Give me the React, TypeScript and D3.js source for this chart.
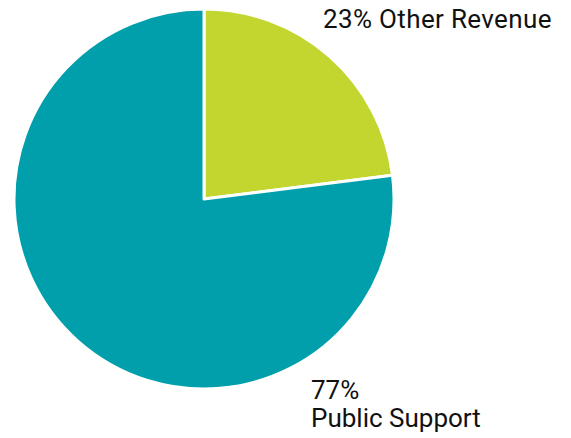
import * as d3 from 'd3';

const labels = ['Other Revenue', 'Public Support'];
const shares = [23, 77];
const colors = ['#c3d62f', '#009fac'];

export default function App() {
  const width = 571;
  const height = 438;
  const cx = 204;
  const cy = 199;
  const radius = 190;

  const pie = d3.pie<number>().sort(null).value(d => d);
  const arc = d3.arc<d3.PieArcDatum<number>>().innerRadius(0).outerRadius(radius);
  const slices = pie(shares);

  return (
    <svg
      width={width}
      height={height}
      style={{ position: 'absolute', left: 0, top: 0 }}
      fontFamily="Roboto, sans-serif"
    >
      <g transform={`translate(${cx},${cy})`}>
        {slices.map((s, i) => (
          <path key={i} d={arc(s) || ''} fill={colors[i]} stroke="#fff" strokeWidth={3} strokeLinejoin="round" />
        ))}
      </g>
      <text x={323} y={28} fontSize={26} letterSpacing={0.35} fill="#111">
        {`${shares[0]}% ${labels[0]}`}
      </text>
      <text x={311} y={399} fontSize={26} fill="#111">{`${shares[1]}%`}</text>
      <text x={311} y={427} fontSize={26} fill="#111">{labels[1]}</text>
    </svg>
  );
}
